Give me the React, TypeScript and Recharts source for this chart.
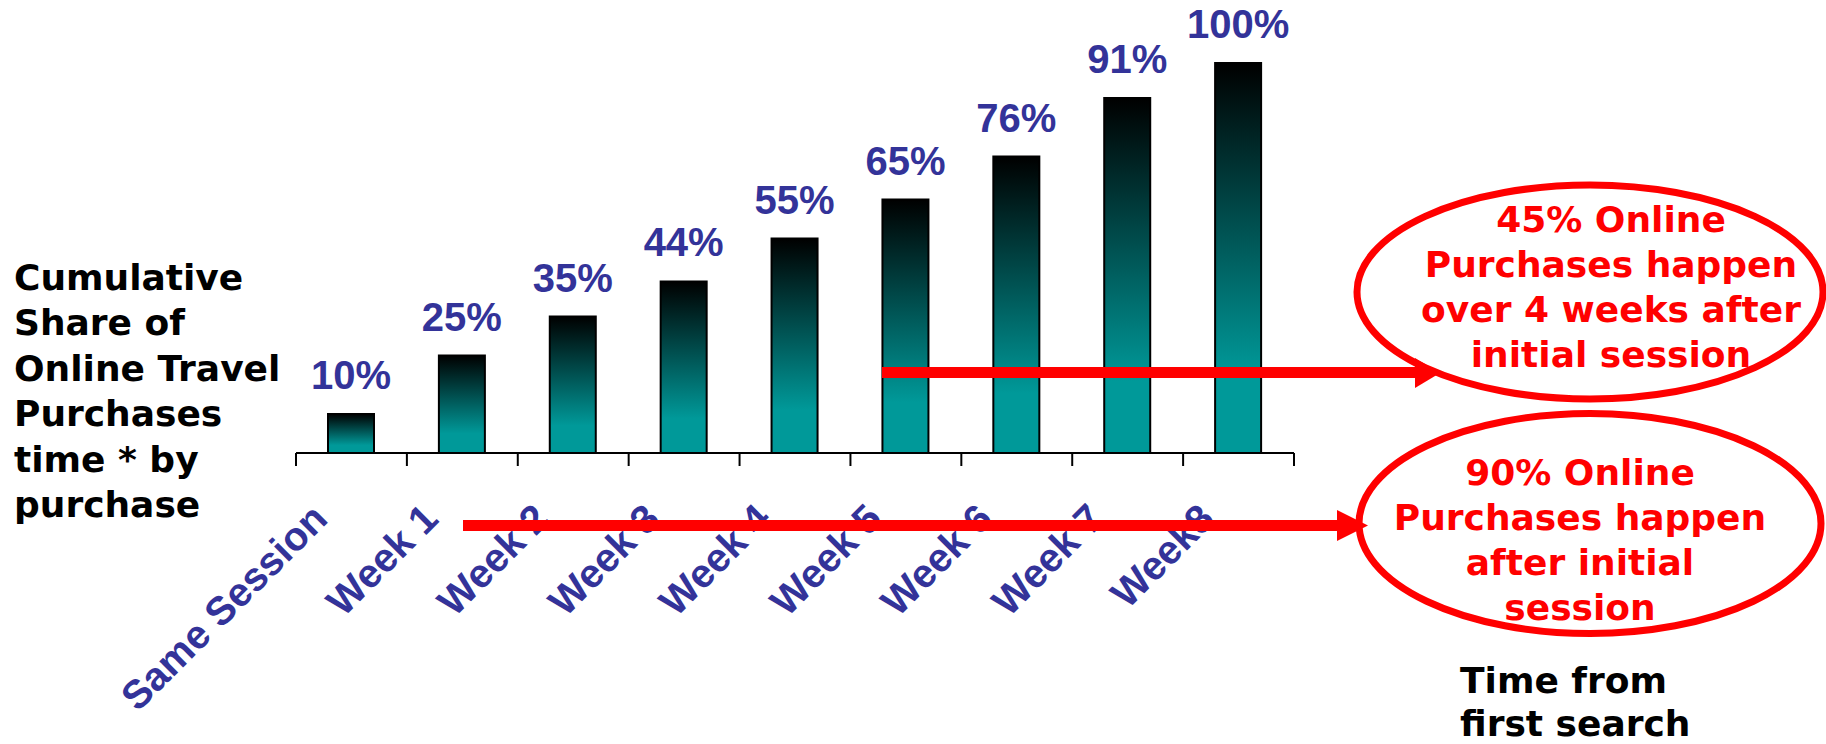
import { BarChart, Bar, XAxis, YAxis, LabelList } from "recharts";

// time buckets since the first search
const periods = [
  "Same Session",
  "Week 1",
  "Week 2",
  "Week 3",
  "Week 4",
  "Week 5",
  "Week 6",
  "Week 7",
  "Week8",
];

// cumulative share of purchases, in percent
const cumulativeShare = [10, 25, 35, 44, 55, 65, 76, 91, 100];

// boundaries between buckets, used for the axis tick marks
const bucketEdges = [0, 1, 2, 3, 4, 5, 6, 7, 8, 9];

const titleLines = [
  "Cumulative",
  "Share of",
  "Online Travel",
  "Purchases",
  "time * by",
  "purchase",
];
const xTitleLines = ["Time from", "first search"];
const noteLater = [
  "45% Online",
  "Purchases happen",
  "over 4 weeks after",
  "initial session",
];
const noteAfterFirst = [
  "90% Online",
  "Purchases happen",
  "after initial",
  "session",
];

const rows = periods.map((period, i) => ({
  period,
  share: cumulativeShare[i],
  slot: i + 0.5,
}));

const BLUE = "#333399";
const RED = "#ff0000";
const ARIAL = "'Liberation Sans', Arial, sans-serif";
const VERDANA = "'DejaVu Sans', Verdana, sans-serif";

const SlantTick = (props: any) => {
  const { x, y, payload } = props;
  return (
    <text
      x={0}
      y={0}
      transform={`translate(${x - 22},${y + 54}) rotate(-45)`}
      textAnchor="end"
      fill={BLUE}
      fontFamily={ARIAL}
      fontWeight="bold"
      fontSize={40}
    >
      {payload.value}
    </text>
  );
};

// edge ticks only need their tick marks, no text
const NoLabel = () => <g />;

const ShareLabel = (props: any) => {
  const { x, y, width, value } = props;
  return (
    <text
      x={x + width / 2}
      y={y - 25}
      textAnchor="middle"
      fill={BLUE}
      fontFamily={ARIAL}
      fontWeight="bold"
      fontSize={40}
    >
      {`${value}%`}
    </text>
  );
};

const Note = ({
  cx,
  cy,
  rx,
  ry,
  textX,
  baseline,
  lines,
}: {
  cx: number;
  cy: number;
  rx: number;
  ry: number;
  textX: number;
  baseline: number;
  lines: string[];
}) => (
  <g>
    <ellipse cx={cx} cy={cy} rx={rx} ry={ry} fill="none" stroke={RED} strokeWidth={7} />
    {lines.map((line, i) => (
      <text
        key={line}
        x={textX}
        y={baseline + i * 45}
        textAnchor="middle"
        fill={RED}
        fontFamily={VERDANA}
        fontWeight="bold"
        fontSize={36}
      >
        {line}
      </text>
    ))}
  </g>
);

export default function App() {
  return (
    <div
      style={{
        position: "absolute",
        left: 0,
        top: 0,
        width: 1826,
        height: 744,
        background: "#fff",
        overflow: "hidden",
      }}
    >
      <BarChart
        width={1826}
        height={744}
        data={rows}
        margin={{ top: 63, right: 532, bottom: 0, left: 296 }}
      >
        <defs>
          <linearGradient id="barFade" x1="0" y1="0" x2="0" y2="1">
            <stop offset="0" stopColor="#000000" />
            <stop offset="0.8" stopColor="#009999" />
            <stop offset="1" stopColor="#009999" />
          </linearGradient>
        </defs>
        {/* axis 0 sits right under the bars: baseline plus tick marks at bucket edges */}
        <XAxis
          xAxisId={0}
          type="number"
          dataKey="slot"
          domain={[0, 9]}
          ticks={bucketEdges}
          interval={0}
          allowDataOverflow
          tick={<NoLabel />}
          tickSize={13}
          height={14}
          axisLine={{ stroke: "#000", strokeWidth: 2 }}
          tickLine={{ stroke: "#000", strokeWidth: 2 }}
        />
        {/* axis 1 carries the slanted bucket names */}
        <XAxis
          xAxisId={1}
          dataKey="period"
          interval={0}
          axisLine={false}
          tickLine={false}
          tickSize={0}
          tickMargin={0}
          height={277}
          tick={<SlantTick />}
        />
        <YAxis hide domain={[0, 100]} />
        <Bar
          xAxisId={1}
          dataKey="share"
          barSize={46}
          fill="url(#barFade)"
          stroke="#000"
          strokeWidth={2}
          isAnimationActive={false}
        >
          <LabelList dataKey="share" content={<ShareLabel />} />
        </Bar>
      </BarChart>

      <svg
        width={1826}
        height={744}
        style={{ position: "absolute", left: 0, top: 0, pointerEvents: "none" }}
      >
        {titleLines.map((line, i) => (
          <text
            key={line}
            x={14}
            y={290 + i * 45.4}
            fill="#000"
            fontFamily={VERDANA}
            fontWeight="bold"
            fontSize={36}
          >
            {line}
          </text>
        ))}
        {xTitleLines.map((line, i) => (
          <text
            key={line}
            x={1460}
            y={693 + i * 43}
            fill="#000"
            fontFamily={VERDANA}
            fontWeight="bold"
            fontSize={36}
          >
            {line}
          </text>
        ))}

        {/* arrows pointing into the two call-outs */}
        <line x1={882} y1={372.5} x2={1417} y2={372.5} stroke={RED} strokeWidth={11} />
        <polygon points="1415,358 1440,373 1415,388" fill={RED} />
        <line x1={463} y1={525.5} x2={1339} y2={525.5} stroke={RED} strokeWidth={11} />
        <polygon points="1337,510 1368,525.5 1337,541" fill={RED} />

        <Note cx={1590} cy={292} rx={233} ry={107} textX={1611} baseline={232} lines={noteLater} />
        <Note cx={1590} cy={523.5} rx={231} ry={110} textX={1580} baseline={485} lines={noteAfterFirst} />
      </svg>
    </div>
  );
}
